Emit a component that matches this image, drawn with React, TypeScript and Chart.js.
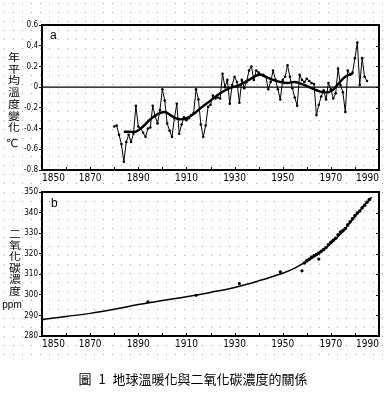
import React, { useEffect, useRef } from 'react';
import { Chart, registerables } from 'chart.js';

Chart.register(...registerables);

// ---------- Data ----------
const tempStartYear = 1880;
const tempValues = [
  -0.38, -0.37, -0.46, -0.55, -0.72, -0.53, -0.46, -0.53, -0.45, -0.18, // 1880-1889
  -0.38, -0.40, -0.44, -0.48, -0.40, -0.39, -0.18, -0.28, -0.35, -0.22, // 1890-1899
  -0.02, -0.13, -0.35, -0.42, -0.48, -0.30, -0.16, -0.45, -0.36, -0.29, // 1900-1909
  -0.32, -0.30, -0.27, -0.25, -0.02, -0.12, -0.36, -0.48, -0.37, -0.19, // 1910-1919
  -0.17, -0.08, -0.11, -0.10, -0.11, 0.13, 0.00, 0.07, -0.16, 0.02,     // 1920-1929
  0.10, 0.05, -0.15, 0.07, -0.01, 0.05, 0.16, 0.20, 0.07, 0.16,         // 1930-1939
  0.14, 0.12, 0.12, 0.10, -0.02, 0.05, 0.16, 0.07, -0.02, -0.12,        // 1940-1949
  0.07, 0.10, 0.21, 0.10, -0.01, -0.10, -0.18, 0.12, 0.07, 0.05,        // 1950-1959
  0.08, 0.06, 0.04, 0.03, -0.27, -0.17, -0.09, -0.03, -0.12, 0.04,      // 1960-1969
  -0.02, -0.11, -0.06, 0.18, 0.02, -0.05, -0.24, 0.16, 0.12, 0.14,      // 1970-1979
  0.28, 0.43, 0.02, 0.28, 0.10, 0.06,                                   // 1980-1985
];
const smoothYears = [1884, 1886, 1889, 1892, 1895, 1898, 1901, 1904, 1907, 1910, 1913, 1916, 1920, 1924, 1928, 1932, 1936, 1940, 1943, 1946, 1949, 1952, 1955, 1958, 1961, 1964, 1967, 1970, 1973, 1976, 1979];
const smoothValues = [-0.43, -0.43, -0.43, -0.38, -0.31, -0.26, -0.24, -0.28, -0.31, -0.30, -0.26, -0.20, -0.13, -0.06, -0.01, 0.02, 0.07, 0.12, 0.10, 0.07, 0.05, 0.04, 0.05, 0.03, 0.00, -0.03, -0.05, -0.04, 0.03, 0.10, 0.13];

const co2FitYears = [1850, 1860, 1870, 1880, 1890, 1900, 1910, 1920, 1930, 1940, 1950, 1955, 1960, 1965, 1970, 1975, 1980, 1985, 1987];
const co2FitValues = [288, 289.5, 291, 293, 295.3, 297.3, 299.1, 301.2, 303.6, 306.8, 310.5, 313, 316.3, 320, 325, 330.8, 338, 345, 347.5];
const co2IceYears = [1850, 1894, 1914, 1932, 1949, 1958, 1965];
const co2IceValues = [288, 296.6, 299.8, 305.5, 311.2, 311.7, 317.4];
const co2MaunaYears = [1959, 1960, 1961, 1962, 1963, 1964, 1965, 1966, 1967, 1968, 1969, 1970, 1971, 1972, 1973, 1974, 1975, 1976, 1977, 1978, 1979, 1980, 1981, 1982, 1983, 1984, 1985, 1986];
const co2MaunaValues = [315.5, 316.5, 317.3, 318.2, 319.0, 319.6, 320.3, 321.2, 322.0, 323.0, 324.3, 325.5, 326.5, 327.5, 329.2, 330.5, 331.2, 332.2, 334.0, 335.5, 337.0, 338.5, 339.8, 340.8, 342.3, 343.5, 345.0, 346.3];

const xMin = 1850;
const xMax = 1990;
const xLabelStep = 20;
const xMinorStep = 10;
const tempMin = -0.8;
const tempMax = 0.6;
const tempStep = 0.2;
const co2Min = 280;
const co2Max = 350;
const co2Step = 10;

const tempTitle = ['年', '平', '均', '溫', '度', '變', '化'];
const co2Title = ['二', '氧', '化', '碳', '濃', '度'];
const captionParts = ['圖', '1', '地球溫暖化與二氧化碳濃度的關係'];

const FONT = "'Liberation Sans Narrow', 'DejaVu Sans Condensed', 'Liberation Sans', sans-serif";

// ---------- Plugins ----------
const framePlugin = {
  id: 'frame',
  beforeDatasetsDraw(chart: any, _args: any, opts: any) {
    if (!opts || !opts.zeroLine) return;
    const { ctx, chartArea } = chart;
    const y = chart.scales.y.getPixelForValue(0);
    ctx.save();
    ctx.strokeStyle = '#000';
    ctx.lineWidth = 1.2;
    ctx.beginPath();
    ctx.moveTo(chartArea.left, y);
    ctx.lineTo(chartArea.right, y);
    ctx.stroke();
    ctx.restore();
  },
  afterDatasetsDraw(chart: any) {
    const { ctx, chartArea } = chart;
    const { left, right, top, bottom } = chartArea;
    const xs = chart.scales.x;
    const ys = chart.scales.y;
    ctx.save();
    ctx.strokeStyle = '#000';
    ctx.lineWidth = 2;
    ctx.strokeRect(left, top, right - left, bottom - top);
    ctx.lineWidth = 1;
    ctx.beginPath();
    for (let v = xMin; v <= xMax; v += xMinorStep) {
      const x = Math.round(xs.getPixelForValue(v)) + 0.5;
      ctx.moveTo(x, bottom);
      ctx.lineTo(x, bottom - 3);
    }
    ys.ticks.forEach((t: any) => {
      const y = Math.round(ys.getPixelForValue(t.value)) + 0.5;
      ctx.moveTo(right, y);
      ctx.lineTo(right - 3, y);
    });
    ctx.stroke();
    ctx.restore();
  },
};

function xScale(height: number) {
  return {
    type: 'linear',
    min: xMin,
    max: xMax,
    afterFit: (s: any) => { s.height = height; },
    border: { display: false },
    grid: { display: true, drawOnChartArea: false, drawTicks: false },
    ticks: {
      stepSize: xLabelStep,
      autoSkip: false,
      maxRotation: 0,
      align: 'inner',
      padding: 2,
      color: '#000',
      font: { family: FONT, size: 10 },
      callback: (v: number) => String(Math.round(v)),
    },
  };
}

function yScale(min: number, max: number, step: number, fmt: (v: number) => string) {
  return {
    type: 'linear',
    min,
    max,
    afterFit: (s: any) => { s.width = 42; },
    border: { display: false },
    grid: { display: true, drawOnChartArea: false, drawTicks: true, tickLength: 3, color: '#000', tickColor: '#000', tickWidth: 1 },
    ticks: {
      stepSize: step,
      autoSkip: false,
      padding: 1,
      color: '#000',
      font: { family: FONT, size: 8 },
      callback: fmt,
    },
  };
}

const fmtTemp = (v: number) => {
  if (Math.abs(v) < 1e-6) return '0';
  return (Math.round(v * 10) / 10).toFixed(1);
};
const fmtCo2 = (v: number) => String(Math.round(v));

// ---------- Components ----------
function TempChart() {
  const ref = useRef<HTMLCanvasElement>(null);
  useEffect(() => {
    const raw = tempValues.map((v, i) => ({ x: tempStartYear + i, y: v }));
    const smooth = smoothYears.map((yr, i) => ({ x: yr, y: smoothValues[i] }));
    const chart = new Chart(ref.current as HTMLCanvasElement, {
      type: 'line',
      data: {
        datasets: [
          {
            data: raw,
            borderColor: '#000',
            backgroundColor: '#000',
            borderWidth: 1,
            pointRadius: 1.3,
            pointBorderWidth: 0,
            tension: 0,
          },
          {
            data: smooth,
            borderColor: '#000',
            borderWidth: 2.4,
            pointRadius: 0,
            tension: 0.4,
          },
        ],
      } as any,
      options: {
        animation: false,
        responsive: false,
        devicePixelRatio: 1,
        layout: { padding: { top: 25, right: 7, bottom: 0, left: 0 } },
        plugins: { legend: { display: false }, tooltip: { enabled: false }, frame: { zeroLine: true } } as any,
        scales: {
          x: xScale(15),
          y: yScale(tempMin, tempMax, tempStep, fmtTemp),
        } as any,
      },
      plugins: [framePlugin],
    });
    return () => chart.destroy();
  }, []);
  return <canvas ref={ref} width={386} height={185} style={{ position: 'absolute', left: 0, top: 0 }} />;
}

function Co2Chart() {
  const ref = useRef<HTMLCanvasElement>(null);
  useEffect(() => {
    const fit = co2FitYears.map((yr, i) => ({ x: yr, y: co2FitValues[i] }));
    const ice = co2IceYears.map((yr, i) => ({ x: yr, y: co2IceValues[i] }));
    const mauna = co2MaunaYears.map((yr, i) => ({ x: yr, y: co2MaunaValues[i] }));
    const chart = new Chart(ref.current as HTMLCanvasElement, {
      type: 'line',
      data: {
        datasets: [
          { data: fit, borderColor: '#000', borderWidth: 1.5, pointRadius: 0, tension: 0.4 },
          { data: ice, showLine: false, backgroundColor: '#000', borderColor: '#000', pointRadius: 1.6, pointBorderWidth: 0 },
          { data: mauna, showLine: false, backgroundColor: '#000', borderColor: '#000', pointRadius: 1.8, pointBorderWidth: 0 },
        ],
      } as any,
      options: {
        animation: false,
        responsive: false,
        devicePixelRatio: 1,
        layout: { padding: { top: 12, right: 7, bottom: 0, left: 0 } },
        plugins: { legend: { display: false }, tooltip: { enabled: false }, frame: { zeroLine: false } } as any,
        scales: {
          x: xScale(14),
          y: yScale(co2Min, co2Max, co2Step, fmtCo2),
        } as any,
      },
      plugins: [framePlugin],
    });
    return () => chart.destroy();
  }, []);
  return <canvas ref={ref} width={386} height={170} style={{ position: 'absolute', left: 0, top: 180 }} />;
}

function DotBackground() {
  const ref = useRef<HTMLCanvasElement>(null);
  useEffect(() => {
    const c = ref.current as HTMLCanvasElement;
    const ctx = c.getContext('2d') as CanvasRenderingContext2D;
    ctx.clearRect(0, 0, c.width, c.height);
    ctx.fillStyle = '#a8a8a8';
    for (let y = 3; y < 362; y += 9) {
      for (let x = 4; x < 386; x += 9) {
        ctx.fillRect(x, y, 1, 1);
      }
    }
  }, []);
  return <canvas ref={ref} width={386} height={397} style={{ position: 'absolute', left: 0, top: 0 }} />;
}

function VerticalTitle({ chars, left, top, step }: { chars: string[]; left: number; top: number; step: number }) {
  return (
    <div style={{ position: 'absolute', left, top, width: 20 }}>
      {chars.map((c, i) => (
        <div
          key={i}
          style={{
            position: 'absolute',
            left: 0,
            top: i * step,
            width: 20,
            height: step,
            lineHeight: step + 'px',
            textAlign: 'center',
            fontFamily: "'Noto Sans CJK TC', sans-serif",
            fontSize: 12,
            color: '#000',
            transform: 'scaleY(0.82)',
          }}
        >
          {c}
        </div>
      ))}
    </div>
  );
}

export default function App() {
  return (
    <div style={{ position: 'fixed', left: 0, top: 0, width: 386, height: 397, background: '#fff', overflow: 'hidden' }}>
      <DotBackground />
      <TempChart />
      <Co2Chart />
      <VerticalTitle chars={tempTitle} left={4} top={51} step={11.7} />
      <div style={{ position: 'absolute', left: 2, top: 137, width: 20, textAlign: 'center', fontSize: 11, fontFamily: "'DejaVu Sans', sans-serif", color: '#000' }}>℃</div>
      <VerticalTitle chars={co2Title} left={5} top={227.5} step={11.4} />
      <div style={{ position: 'absolute', left: 0, top: 299, width: 24, textAlign: 'center', fontFamily: "'Liberation Sans', sans-serif", fontSize: 10, color: '#000' }}>ppm</div>
      <div style={{ position: 'absolute', left: 50, top: 28, fontFamily: "'Liberation Sans', sans-serif", fontSize: 12, color: '#000' }}>a</div>
      <div style={{ position: 'absolute', left: 51, top: 196, fontFamily: "'Liberation Sans', sans-serif", fontSize: 12, color: '#000' }}>b</div>
      <div style={{ position: 'absolute', left: 0, top: 371, width: 386, textAlign: 'center', fontFamily: "'Noto Sans CJK TC', sans-serif", fontSize: 13, lineHeight: '16px', color: '#000', whiteSpace: 'nowrap' }}>
        <span>{captionParts[0]}</span>
        <span style={{ marginLeft: 7, marginRight: 7 }}>{captionParts[1]}</span>
        <span>{captionParts[2]}</span>
      </div>
    </div>
  );
}
